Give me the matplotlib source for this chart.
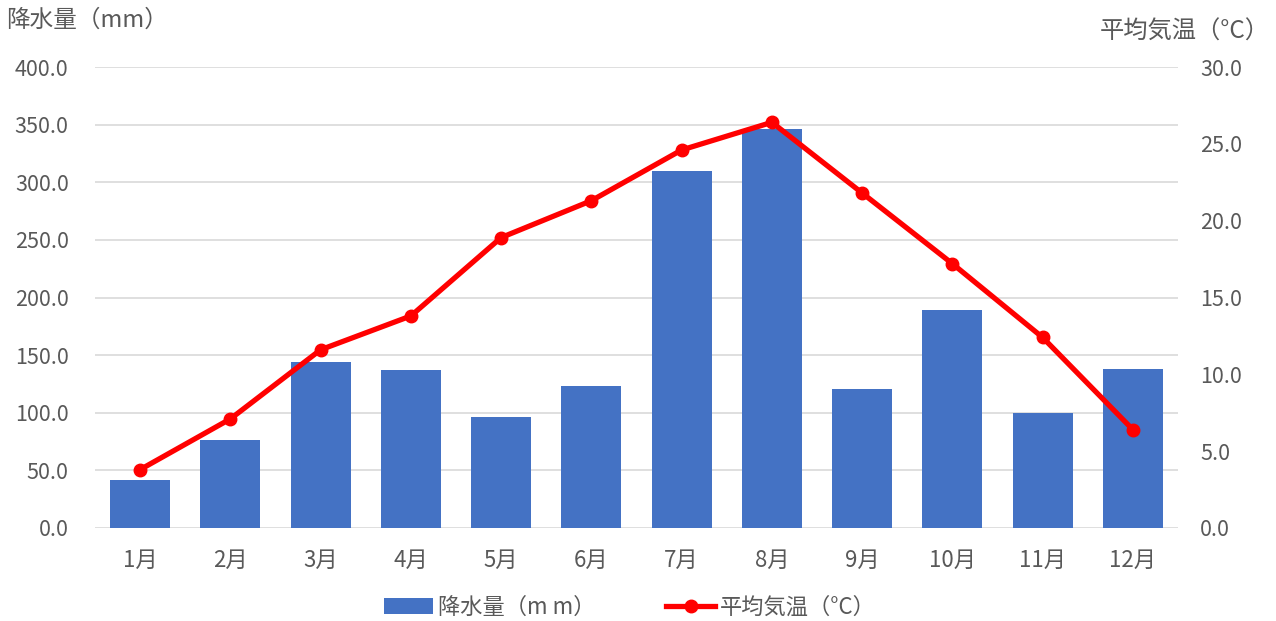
import matplotlib
matplotlib.use('Agg')
import matplotlib.pyplot as plt
from matplotlib.lines import Line2D
from matplotlib.patches import Patch

plt.rcParams['font.family'] = ['Noto Sans CJK JP', 'DejaVu Sans']

months = ['1月', '2月', '3月', '4月', '5月', '6月', '7月', '8月', '9月', '10月', '11月', '12月']
rain = [42, 76, 144, 137, 96, 123, 310, 346, 121, 189, 100, 138]
temp = [3.8, 7.1, 11.6, 13.8, 18.9, 21.3, 24.6, 26.4, 21.8, 17.2, 12.4, 6.4]
left_ticks = [0, 50, 100, 150, 200, 250, 300, 350, 400]
right_ticks = [0, 5, 10, 15, 20, 25, 30]

BLUE = '#4472C4'
RED = '#FF0000'
GRAY = '#595959'

fig = plt.figure(figsize=(12.76, 6.21), dpi=100)
ax = fig.add_axes([95 / 1276, 93 / 621, 1083 / 1276, 461 / 621])
ax2 = ax.twinx()

x = list(range(len(months)))
ax.bar(x, rain, width=0.665, color=BLUE, zorder=2)
ax.set_xlim(-0.5, len(months) - 0.5)
ax.set_ylim(0, 400)
ax.set_yticks(left_ticks)
ax.set_yticklabels(['{:.1f}'.format(v) for v in left_ticks])
ax.set_xticks(x)
ax.set_xticklabels(months)
ax.yaxis.grid(True, color='#D9D9D9', linewidth=1.2, zorder=0)
ax.set_axisbelow(True)

ax2.plot(x, temp, color=RED, linewidth=3.8, marker='o', markersize=9, zorder=3)
ax2.set_ylim(0, 30)
ax2.set_yticks(right_ticks)
ax2.set_yticklabels(['{:.1f}'.format(v) for v in right_ticks])

for a in (ax, ax2):
    for s in a.spines.values():
        s.set_visible(False)
    a.tick_params(length=0, labelsize=15.5, colors=GRAY)
ax.tick_params(axis='y', pad=19)
ax2.tick_params(axis='y', pad=16)
ax.tick_params(axis='x', pad=15, labelsize=16)

fig.text(6 / 1276, 1 - 20 / 621, '降水量（mm）', fontsize=17, color=GRAY, ha='left', va='center')
fig.text(1270 / 1276, 1 - 32 / 621, '平均気温（°C）', fontsize=17.5, color=GRAY, ha='right', va='center')

handles = [Patch(facecolor=BLUE), Line2D([], [], color=RED, linewidth=3.8, marker='o', markersize=9)]
fig.legend(handles, ['降水量（m m）', '平均気温（°C）'], loc='center', bbox_to_anchor=(630 / 1276, 1 - 607 / 621),
           ncol=2, frameon=False, fontsize=16, labelcolor=GRAY, handlelength=2.2, columnspacing=3.2,
           handletextpad=0.2)

fig.savefig('out.png', dpi=100)
